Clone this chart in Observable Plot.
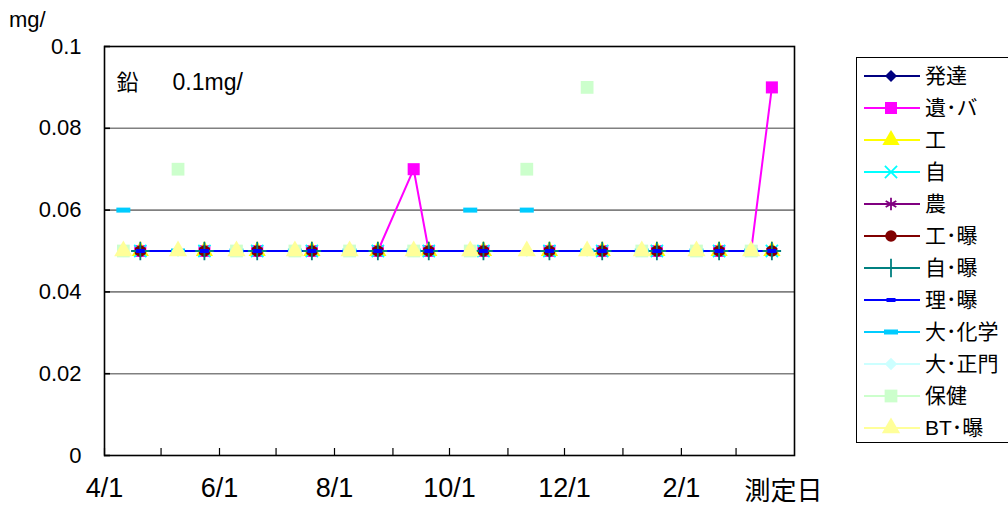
<!DOCTYPE html>
<html><head><meta charset="utf-8">
<script src="https://cdn.jsdelivr.net/npm/d3@7"></script>
<script src="https://cdn.jsdelivr.net/npm/@observablehq/plot@0.6"></script>
<style>
body{margin:0;background:#fff;font-family:"Liberation Sans",Arial,"Noto Sans CJK JP",sans-serif;}
#wrap{position:relative;width:1008px;height:511px;overflow:hidden;}
#chart{position:absolute;left:0;top:0;}
#unit{position:absolute;left:9px;top:9px;font-size:22px;line-height:22px;}
#legend{position:absolute;left:856px;top:57px;width:170px;height:386px;border:1.5px solid #000;box-sizing:border-box;background:#fff;}
.lsym{position:absolute;left:6px;}
.ltxt{position:absolute;left:68px;font-size:21px;line-height:24px;white-space:nowrap;}
</style></head><body>
<div id="wrap"><div id="chart"></div><div id="unit">mg/</div><div id="legend"></div></div>
<script>
// ---- data ----
const seriesNames = ["発達","遺･バ","工","自","農","工･曝","自･曝","理･曝","大･化学","大･正門","保健","BT･曝"];
const darkDates = ["2007-04-20","2007-05-24","2007-06-21","2007-07-20","2007-08-24","2007-09-20","2007-10-19","2007-11-23","2007-12-21","2008-01-19","2008-02-21","2008-03-20"];
const paleDates = ["2007-04-11","2007-05-10","2007-06-10","2007-07-11","2007-08-09","2007-09-12","2007-10-12","2007-11-11","2007-12-13","2008-01-11","2008-02-09","2008-03-09"];
const hattatsu = [0.05,0.05,0.05,0.05,0.05,0.05,0.05,0.05,0.05,0.05,0.05,0.05];
const ibaDates = ["2007-04-20","2007-05-24","2007-06-21","2007-07-20","2007-08-24","2007-09-12","2007-09-20","2007-10-19","2007-11-23","2007-12-21","2008-01-19","2008-02-21","2008-03-09","2008-03-20"];
const ibaValues = [0.05,0.05,0.05,0.05,0.05,0.07,0.05,0.05,0.05,0.05,0.05,0.05,0.05,0.09];
const kou = [0.05,0.05,0.05,0.05,0.05,0.05,0.05,0.05,0.05,0.05,0.05,0.05];
const ji = [0.05,0.05,0.05,0.05,0.05,0.05,0.05,0.05,0.05,0.05,0.05,0.05];
const nou = [0.05,0.05,0.05,0.05,0.05,0.05,0.05,0.05,0.05,0.05,0.05,0.05];
const kouBaku = [0.05,0.05,0.05,0.05,0.05,0.05,0.05,0.05,0.05,0.05,0.05,0.05];
const jiBaku = [0.05,0.05,0.05,0.05,0.05,0.05,0.05,0.05,0.05,0.05,0.05,0.05];
const riBaku = [0.05,0.05,0.05,0.05,0.05,0.05,0.05,0.05,0.05,0.05,0.05,0.05];
const daiKagaku = [0.06,0.05,0.05,0.05,0.05,0.05,0.06,0.06,0.05,0.05,0.05,0.05];
const daiSeimon = [0.05,0.05,0.05,0.05,0.05,0.05,0.05,0.05,0.05,0.05,0.05,0.05];
const hoken = [0.05,0.07,0.05,0.05,0.05,0.05,0.05,0.07,0.09,0.05,0.05,0.05];
const btBaku = [0.05,0.05,0.05,0.05,0.05,0.05,0.05,0.05,0.05,0.05,0.05,0.05];
const yTicks = [0, 0.02, 0.04, 0.06, 0.08, 0.1];
const gridValues = [0.02, 0.04, 0.06, 0.08];
const xDomain = ["2007-04-01", "2008-04-01"];
const xLabelDates = ["2007-04-01","2007-06-01","2007-08-01","2007-10-01","2007-12-01","2008-02-01"];
const endLabel = "測定日";
const annotation = ["鉛", "0.1mg/"];

// ---- styling ----
const dashSmall = {draw(c){c.moveTo(-4.5,-2);c.lineTo(4.5,-2);c.lineTo(4.5,2);c.lineTo(-4.5,2);c.closePath();}};
const dashWide = {draw(c){c.moveTo(-7,-2.5);c.lineTo(7,-2.5);c.lineTo(7,2.5);c.lineTo(-7,2.5);c.closePath();}};
const seriesDates = [darkDates, ibaDates, darkDates, darkDates, darkDates, darkDates, darkDates, darkDates, paleDates, paleDates, paleDates, paleDates];
const seriesValues = [hattatsu, ibaValues, kou, ji, nou, kouBaku, jiBaku, riBaku, daiKagaku, daiSeimon, hoken, btBaku];
const styles = [
  {color:"#000080", symbol:"diamond2", r:5.4, filled:true, line:true},
  {color:"#ff00ff", symbol:"square", r:6.8, filled:true, line:true},
  {color:"#ffff00", symbol:"triangle", r:6.4, filled:true, line:true},
  {color:"#00ffff", symbol:"times", r:5.6, filled:false, line:true},
  {color:"#800080", symbol:"asterisk", r:5.8, filled:false, line:true},
  {color:"#800000", symbol:"circle", r:5.8, filled:true, line:true},
  {color:"#008080", symbol:"plus", r:6, filled:false, line:true},
  {color:"#0000ff", symbol:dashSmall, r:4, filled:true, line:true},
  {color:"#00ccff", symbol:dashWide, r:4, filled:true, line:false},
  {color:"#ccffff", symbol:"diamond2", r:5.6, filled:true, line:false},
  {color:"#ccffcc", symbol:"square", r:7.2, filled:true, line:false},
  {color:"#ffff99", symbol:"triangle", r:6.8, filled:true, line:false}
];

const parse = s => new Date(s + "T00:00:00Z");
const series = seriesNames.map((name, i) => ({
  name, ...styles[i],
  data: seriesDates[i].map((d, j) => ({date: parse(d), value: seriesValues[i][j]}))
}));

const start = parse(xDomain[0]), end = parse(xDomain[1]);
const monthTicks = d3.utcMonth.range(start, end);
const labelTicks = xLabelDates.map(parse);
const font = "'Liberation Sans', Arial, 'Noto Sans CJK JP', sans-serif";

const marks = [
  Plot.ruleY(gridValues, {stroke:"#808080", strokeWidth:1.6}),
  Plot.frame({stroke:"#000", strokeWidth:1.6}),
  Plot.axisY(yTicks, {tickSize:-6, tickFormat:() => "", label:null, strokeWidth:1.6}),
  Plot.axisY(yTicks, {tickSize:0, tickPadding:23, fontSize:22, tickFormat:d3.format("~g"), label:null}),
  Plot.axisX(monthTicks, {tickSize:-7, tickFormat:() => "", label:null, strokeWidth:1.2}),
  Plot.axisX(labelTicks, {tickSize:0, tickPadding:22, fontSize:27, tickFormat:d3.utcFormat("%-m/%-d"), label:null}),
  Plot.text([end], {x:d => d, frameAnchor:"bottom", dy:36, dx:-11, text:() => endLabel, fontSize:26, lineAnchor:"middle"}),
  Plot.text([annotation[0]], {frameAnchor:"top-left", dx:12, dy:36, text:d => d, fontSize:22, lineAnchor:"middle", textAnchor:"start"}),
  Plot.text([annotation[1]], {frameAnchor:"top-left", dx:68, dy:36, text:d => d, fontSize:23, lineAnchor:"middle", textAnchor:"start"})
];
for (const s of series) {
  if (s.line) marks.push(Plot.line(s.data, {x:"date", y:"value", stroke:s.color, strokeWidth:2}));
}
for (const s of series) {
  marks.push(Plot.dot(s.data, {x:"date", y:"value", symbol:s.symbol, r:s.r,
    fill: s.filled ? s.color : "none", stroke: s.filled ? "none" : s.color, strokeWidth:1.8}));
}

const chart = Plot.plot({
  width:1008, height:511,
  marginLeft:104, marginRight:214, marginTop:46, marginBottom:56,
  x:{type:"utc", domain:[start, end]},
  y:{domain:[0, 0.1]},
  style:{fontFamily:font, background:"transparent", color:"#000"},
  marks
});
document.getElementById("chart").appendChild(chart);

// ---- legend ----
const legend = d3.select("#legend");
const symMap = {diamond2:d3.symbolDiamond2, square:d3.symbolSquare, triangle:d3.symbolTriangle, times:d3.symbolTimes, asterisk:d3.symbolAsterisk, circle:d3.symbolCircle, plus:d3.symbolPlus};
series.forEach((s, i) => {
  const cy = 18 + 32 * i;
  const svg = legend.append("svg").attr("class","lsym").attr("width",58).attr("height",24).style("top", (cy - 12) + "px");
  svg.append("line").attr("x1",1).attr("x2",57).attr("y1",12).attr("y2",12).attr("stroke",s.color).attr("stroke-width",2);
  const type = typeof s.symbol === "string" ? symMap[s.symbol] : s.symbol;
  svg.append("path").attr("transform","translate(28,12)")
    .attr("d", d3.symbol(type, Math.PI * s.r * s.r)())
    .attr("fill", s.filled ? s.color : "none").attr("stroke", s.filled ? "none" : s.color).attr("stroke-width",1.8);
  legend.append("div").attr("class","ltxt").style("top", (cy - 12) + "px").text(s.name);
});
</script></body></html>
